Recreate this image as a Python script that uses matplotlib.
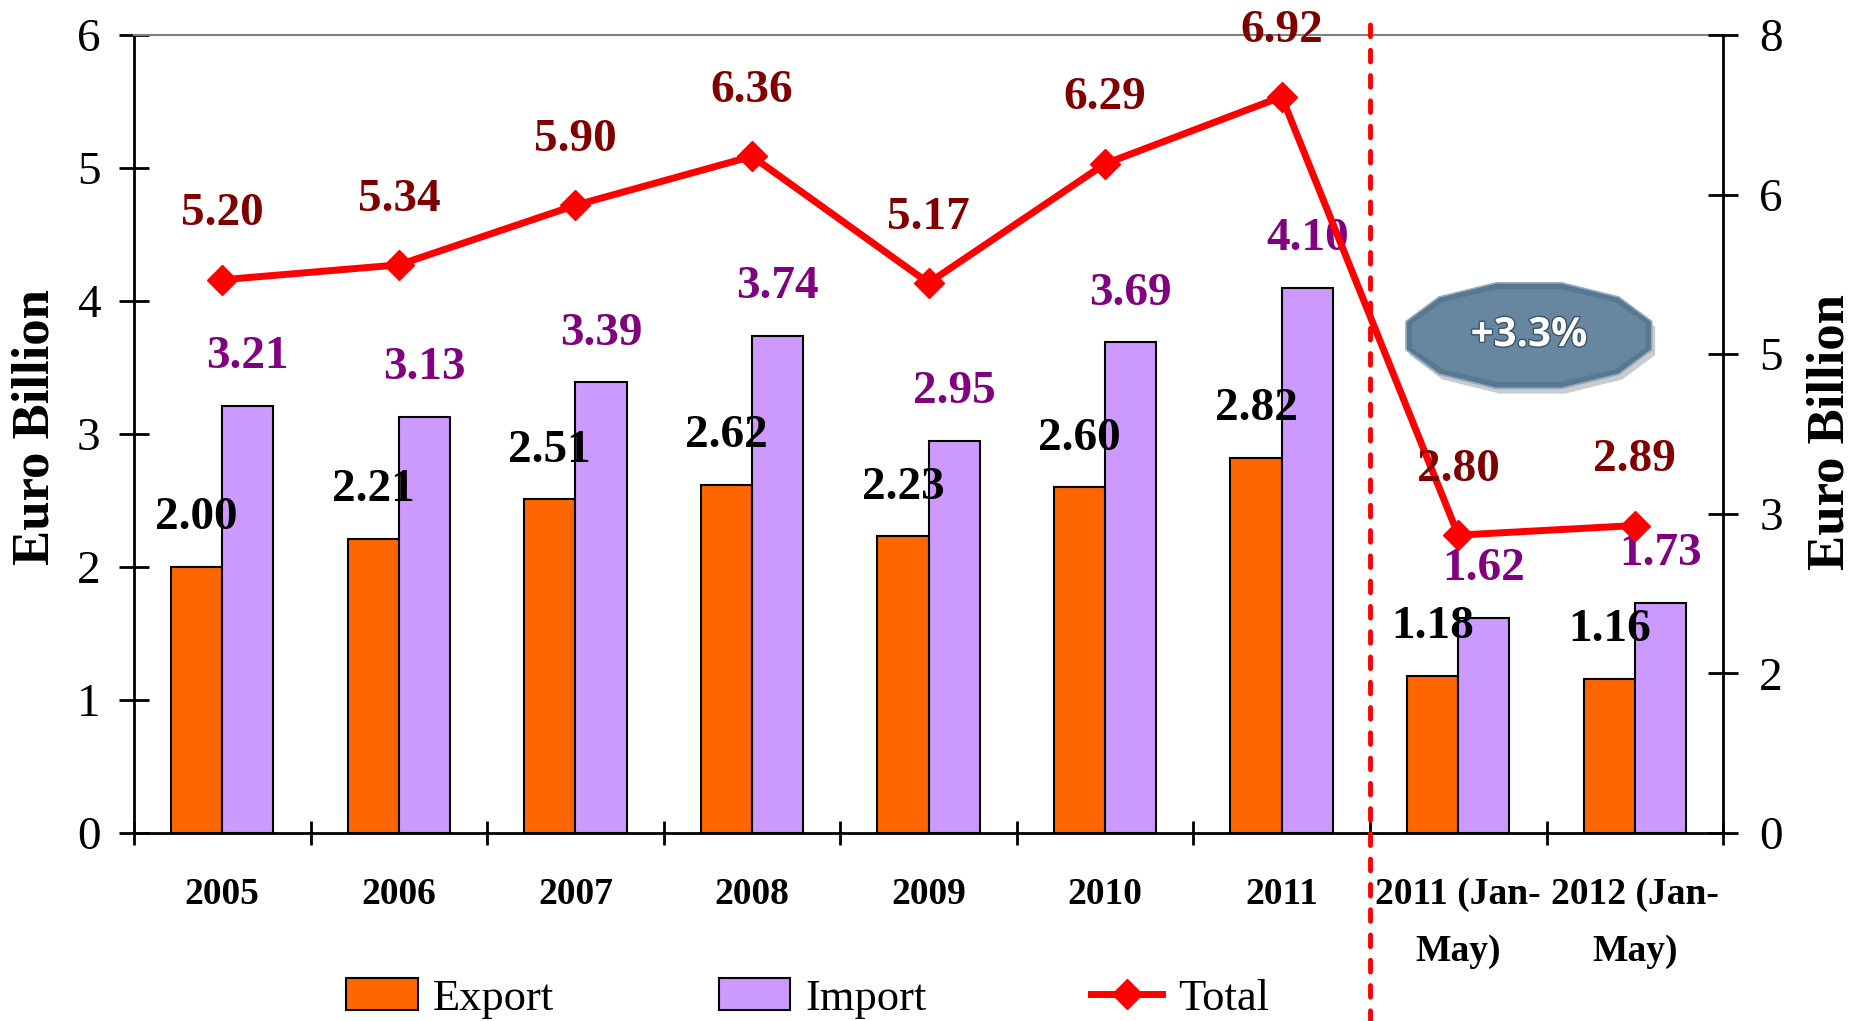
import numpy as np
import matplotlib
matplotlib.use("Agg")
import matplotlib.pyplot as plt
from matplotlib.patches import Polygon
from matplotlib.lines import Line2D
from matplotlib.ticker import FixedLocator, FuncFormatter
import matplotlib.patheffects as pe

# data (Euro billion)
categories = ["2005", "2006", "2007", "2008", "2009", "2010", "2011",
              "2011 (Jan-\nMay)", "2012 (Jan-\nMay)"]
export_vals = [2.00, 2.21, 2.51, 2.62, 2.23, 2.60, 2.82, 1.18, 1.16]
import_vals = [3.21, 3.13, 3.39, 3.74, 2.95, 3.69, 4.10, 1.62, 1.73]
total_vals = [5.20, 5.34, 5.90, 6.36, 5.17, 6.29, 6.92, 2.80, 2.89]
growth_text = "+3.3%"

plt.rcParams['font.family'] = ['Liberation Serif', 'DejaVu Serif']

fig = plt.figure(figsize=(18.61, 10.21), dpi=100)
ax = fig.add_axes([0.0720, 0.1841, 0.8539, 0.7816])
ax2 = ax.twinx()

x = np.arange(len(categories))
w = 0.29
ax.bar(x - w / 2, export_vals, w, color='#FF6600', edgecolor='black', linewidth=1.5, label='Export', zorder=2)
ax.bar(x + w / 2, import_vals, w, color='#CC99FF', edgecolor='black', linewidth=1.5, label='Import', zorder=2)

ax2.plot(x, total_vals, color='#FF0000', linewidth=5, marker='D', markersize=15, label='Total', zorder=3)

# value labels
for xi, v in zip(x, export_vals):
    ax.annotate(f"{v:.2f}", (xi - w / 2, v), xytext=(0, 35), textcoords='offset points',
                ha='center', va='center', fontsize=34, fontweight='bold', color='black', zorder=5)
for xi, v in zip(x, import_vals):
    ax.annotate(f"{v:.2f}", (xi + w / 2, v), xytext=(0, 35), textcoords='offset points',
                ha='center', va='center', fontsize=34, fontweight='bold', color='#800080', zorder=5)
for xi, v in zip(x, total_vals):
    ax2.annotate(f"{v:.2f}", (xi, v), xytext=(0, 47), textcoords='offset points',
                 ha='center', va='center', fontsize=34, fontweight='bold', color='#800000',
                 annotation_clip=False)

# axes
ax.set_xlim(-0.5, len(categories) - 0.5)
ax.set_ylim(0, 6)
ax2.set_ylim(0, 7.5)
ax.set_yticks(np.arange(0, 7, 1))
ax2.yaxis.set_major_locator(FixedLocator(np.arange(0, 7.6, 1.5)))
ax2.yaxis.set_major_formatter(FuncFormatter(lambda v, p: str(int(np.floor(v + 0.5)))))

ax.set_xticks(x)
ax.set_xticklabels(categories, fontsize=27, fontweight='bold')
for t in ax.get_xticklabels():
    t.set_linespacing(1.8)
ax.set_xticks(np.arange(-0.5, len(categories), 1), minor=True)
ax.tick_params(axis='x', which='major', length=0, pad=32)
ax.tick_params(axis='x', which='minor', direction='inout', length=17, width=2)
ax.tick_params(axis='y', direction='inout', length=22, width=2, pad=13, labelsize=34)
ax2.tick_params(axis='y', direction='inout', length=22, width=2, pad=15, labelsize=34)

for s in ['left', 'bottom']:
    ax.spines[s].set_linewidth(2)
ax.spines['right'].set_visible(False)
ax.spines['top'].set_color('#808080')
ax.spines['top'].set_linewidth(1.5)
ax2.spines['top'].set_visible(False)
ax2.spines['left'].set_visible(False)
ax2.spines['bottom'].set_visible(False)
ax2.spines['right'].set_linewidth(2)

fig.text(36 / 1861, 1 - 427 / 1021, "Euro Billion", rotation=90, ha='center', va='center',
         fontsize=38, fontweight='bold')
fig.text(1830 / 1861, 1 - 432 / 1021, "Euro Billion", rotation=90, ha='center', va='center',
         fontsize=38, fontweight='bold')

# divider between full years and Jan-May
ax.axvline(6.5, ymin=-0.24, ymax=1.014, color='#FF0000', linewidth=3.5,
           dashes=(2.4, 2.8), dash_capstyle='round', clip_on=False, zorder=6)

# growth badge
bx, by, bw, bh = 7.40, 3.74, 1.44, 0.82
ang = np.deg2rad(np.arange(15, 360, 30))
shadow = Polygon(np.column_stack([bx + 0.02 + bw / 2 * np.cos(ang), by - 0.04 + bh / 2 * np.sin(ang)]),
                 closed=True, facecolor='#c8ccd0', edgecolor='none', zorder=3)
outer = Polygon(np.column_stack([bx + bw / 2 * np.cos(ang), by + bh / 2 * np.sin(ang)]),
                closed=True, facecolor='#587790', edgecolor='#90a8bb', linewidth=1.2, zorder=4)
inner = Polygon(np.column_stack([bx + bw / 2 * 0.95 * np.cos(ang), by + bh / 2 * 0.88 * np.sin(ang)]),
                closed=True, facecolor='#6787a1', edgecolor='none', zorder=4)
for p in (shadow, outer, inner):
    ax.add_patch(p)
ax.text(bx, by, growth_text, ha='center', va='center', fontsize=29, fontweight='bold',
        family='Open Sans', color='white', zorder=5,
        path_effects=[pe.withStroke(linewidth=2, foreground='#3b5268')])

# legend
handles = [plt.Rectangle((0, 0), 1, 1, facecolor='#FF6600', edgecolor='black', linewidth=1.5),
           plt.Rectangle((0, 0), 1, 1, facecolor='#CC99FF', edgecolor='black', linewidth=1.5),
           Line2D([], [], color='#FF0000', linewidth=5, marker='D', markersize=15)]
fig.legend(handles, ['Export', 'Import', 'Total'], loc='center', bbox_to_anchor=(0.434, 0.022),
           ncol=3, frameon=False, fontsize=32, handlelength=1.6, handleheight=0.7,
           handletextpad=0.35, columnspacing=3.7, numpoints=1)

fig.savefig("out.png", dpi=100)
